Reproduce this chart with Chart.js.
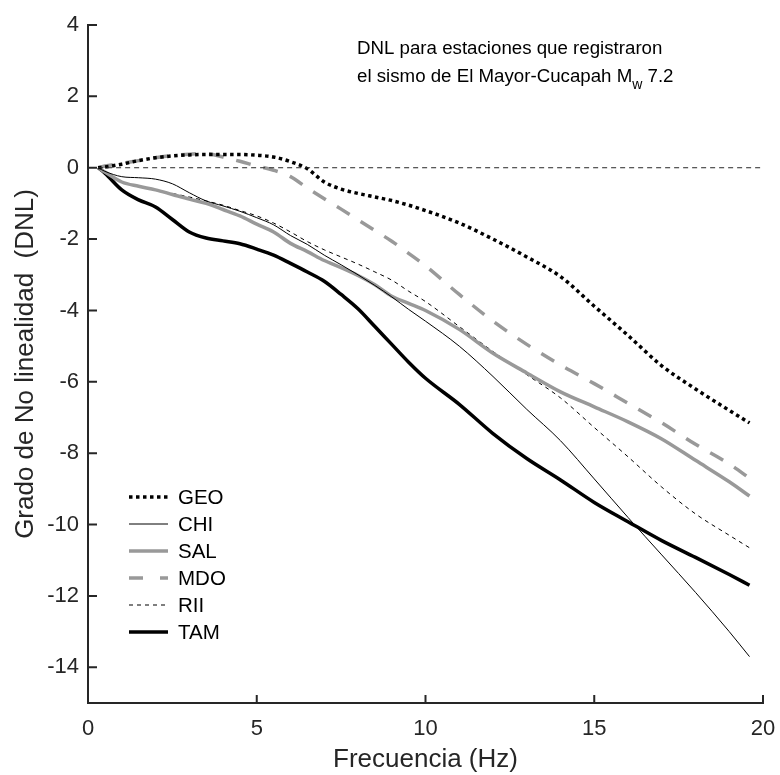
<!DOCTYPE html>
<html>
<head>
<meta charset="utf-8">
<script src="https://cdn.jsdelivr.net/npm/chart.js@4.4.0/dist/chart.umd.min.js"></script>
<style>
body { margin: 0; background: #fff; }
#wrap { width: 780px; height: 775px; }
</style>
</head>
<body>
<div id="wrap"><canvas id="grafico"></canvas></div>
<script>
// frecuencias (Hz) donde se leyeron las curvas
const freq = [0.3, 0.5, 1, 1.5, 2, 2.5, 3, 3.5, 4, 4.5, 5, 5.5, 6, 6.5, 7, 7.5, 8, 8.5, 9, 9.5, 10,
              11, 12, 13, 14, 15, 16, 17, 18, 19, 19.6];

const geo = [0, 0.02, 0.1, 0.2, 0.28, 0.33, 0.36, 0.37, 0.37, 0.37, 0.35, 0.3, 0.17, -0.03, -0.4, -0.6, -0.72, -0.82, -0.92, -1.05, -1.2,
             -1.55, -2.0, -2.5, -3.05, -3.88, -4.7, -5.55, -6.2, -6.8, -7.15];
const chi = [0, -0.1, -0.25, -0.28, -0.32, -0.45, -0.7, -0.93, -1.07, -1.22, -1.4, -1.6, -1.9, -2.15, -2.45, -2.72, -3.0, -3.3, -3.62, -3.97, -4.3,
             -5.0, -5.85, -6.77, -7.65, -8.72, -9.8, -10.85, -11.9, -13.0, -13.7];
const sal = [0, -0.12, -0.4, -0.52, -0.62, -0.75, -0.88, -1.0, -1.17, -1.35, -1.58, -1.8, -2.12, -2.35, -2.6, -2.8, -3.02, -3.28, -3.6, -3.8, -4.0,
             -4.53, -5.2, -5.75, -6.28, -6.7, -7.12, -7.6, -8.2, -8.8, -9.2];
const mdo = [0, 0.05, 0.12, 0.2, 0.28, 0.34, 0.38, 0.4, 0.3, 0.18, 0.05, -0.07, -0.25, -0.57, -0.87, -1.16, -1.46, -1.76, -2.06, -2.4, -2.75,
             -3.55, -4.3, -4.95, -5.53, -6.05, -6.6, -7.15, -7.75, -8.3, -8.7];
const rii = [0, -0.15, -0.4, -0.53, -0.63, -0.72, -0.82, -0.93, -1.05, -1.2, -1.35, -1.55, -1.8, -2.07, -2.3, -2.5, -2.7, -2.92, -3.15, -3.46, -3.75,
             -4.45, -5.15, -5.8, -6.45, -7.28, -8.1, -8.95, -9.7, -10.3, -10.65];
const tam = [0, -0.15, -0.62, -0.9, -1.1, -1.45, -1.8, -1.97, -2.05, -2.13, -2.28, -2.45, -2.68, -2.92, -3.18, -3.55, -3.95, -4.45, -4.95, -5.45, -5.9,
             -6.63, -7.45, -8.15, -8.75, -9.38, -9.92, -10.45, -10.92, -11.4, -11.7];

// linea de referencia en cero
const ceroX = [0.3, 20];
const ceroY = [0, 0];

const xTicks = [0, 5, 10, 15, 20];
const yTicks = [4, 2, 0, -2, -4, -6, -8, -10, -12, -14];

const gris = '#999999';
const ejes = '#262626';

function pares(xs, ys) {
    return xs.map((f, i) => ({ x: f, y: ys[i] }));
}

function serie(label, ys, color, ancho, dash) {
    return {
        label: label,
        data: pares(freq, ys),
        borderColor: color,
        borderWidth: ancho,
        borderDash: dash,
        pointRadius: 0,
        fill: false,
        cubicInterpolationMode: 'monotone'
    };
}

const datasets = [
    {
        label: '',
        data: pares(ceroX, ceroY),
        borderColor: ejes,
        borderWidth: 1,
        borderDash: [5, 4],
        pointRadius: 0,
        fill: false
    },
    serie('GEO', geo, '#000', 3.5, [3.5, 3.5]),
    serie('CHI', chi, '#000', 1, []),
    serie('SAL', sal, gris, 3.5, []),
    serie('MDO', mdo, gris, 3.5, [15, 13]),
    serie('RII', rii, '#000', 1, [4, 4]),
    serie('TAM', tam, '#000', 3.5, [])
];

// ticks hacia adentro, como en el original
const ticksAdentro = {
    id: 'ticksAdentro',
    afterDraw(chart) {
        const ctx = chart.ctx, sx = chart.scales.x, sy = chart.scales.y;
        ctx.save();
        ctx.strokeStyle = ejes;
        ctx.lineWidth = 2;
        ctx.beginPath();
        xTicks.forEach(v => {
            const px = sx.getPixelForValue(v);
            ctx.moveTo(px, sx.top);
            ctx.lineTo(px, sx.top - 8);
        });
        yTicks.forEach(v => {
            const py = sy.getPixelForValue(v);
            ctx.moveTo(sy.right, py);
            ctx.lineTo(sy.right + 9, py);
        });
        ctx.stroke();
        ctx.restore();
    }
};

// leyenda dentro del area del grafico
const leyenda = {
    id: 'leyenda',
    afterDraw(chart) {
        const ctx = chart.ctx;
        let y = 497;
        ctx.save();
        chart.data.datasets.forEach(d => {
            if (!d.label) return;
            ctx.beginPath();
            ctx.strokeStyle = d.borderColor;
            ctx.lineWidth = d.borderWidth;
            ctx.setLineDash(d.label == 'MDO' ? [14, 17] : d.borderDash);
            ctx.moveTo(129, y);
            ctx.lineTo(168, y);
            ctx.stroke();
            ctx.setLineDash([]);
            ctx.fillStyle = '#000';
            ctx.font = '20.5px Arial, "Liberation Sans", sans-serif';
            ctx.textBaseline = 'middle';
            ctx.fillText(d.label, 178, y + 1);
            y += 27;
        });
        ctx.restore();
    }
};

const anotacion = {
    id: 'anotacion',
    afterDraw(chart) {
        const ctx = chart.ctx;
        ctx.save();
        ctx.fillStyle = '#000';
        ctx.textBaseline = 'alphabetic';
        ctx.font = '18.7px Arial, "Liberation Sans", sans-serif';
        ctx.fillText('DNL para estaciones que registraron', 357, 54);
        const t = 'el sismo de El Mayor-Cucapah M';
        ctx.fillText(t, 357, 82);
        let x = 357 + ctx.measureText(t).width;
        ctx.font = '14px Arial, "Liberation Sans", sans-serif';
        ctx.fillText('w', x, 89);
        x += ctx.measureText('w').width;
        ctx.font = '18.7px Arial, "Liberation Sans", sans-serif';
        ctx.fillText(' 7.2', x, 82);
        ctx.restore();
    }
};

const fuente = { family: 'Arial, "Liberation Sans", sans-serif', size: 22 };

const config = {
    type: 'line',
    data: { datasets: datasets },
    plugins: [ticksAdentro, leyenda, anotacion],
    options: {
        animation: false,
        responsive: true,
        maintainAspectRatio: false,
        layout: { padding: { left: 0, top: 25, right: 17, bottom: 0 } },
        plugins: {
            legend: { display: false },
            tooltip: { enabled: false }
        },
        scales: {
            x: {
                type: 'linear',
                min: 0,
                max: 20,
                afterFit: s => { s.height = 72; s.paddingLeft = 0; s.paddingRight = 0; },
                afterBuildTicks: s => { s.ticks = xTicks.map(v => ({ value: v })); },
                grid: { drawOnChartArea: false, drawTicks: false },
                border: { color: ejes, width: 2 },
                ticks: { color: ejes, font: fuente, padding: 13, maxRotation: 0 },
                title: {
                    display: true,
                    text: 'Frecuencia (Hz)',
                    color: ejes,
                    font: { family: fuente.family, size: 26 },
                    padding: { top: 0, bottom: 0 }
                }
            },
            y: {
                type: 'linear',
                min: -15,
                max: 4,
                afterFit: s => { s.width = 88; s.paddingTop = 0; s.paddingBottom = 0; },
                afterBuildTicks: s => { s.ticks = yTicks.map(v => ({ value: v })); },
                grid: { drawOnChartArea: false, drawTicks: false },
                border: { color: ejes, width: 2 },
                ticks: { color: ejes, font: fuente, padding: 9 },
                title: {
                    display: true,
                    text: 'Grado de No linealidad  (DNL)',
                    color: ejes,
                    font: { family: fuente.family, size: 26 },
                    padding: { top: 10, bottom: 0 }
                }
            }
        }
    }
};

let grafico = new Chart(document.getElementById('grafico'), config);
</script>
</body>
</html>
